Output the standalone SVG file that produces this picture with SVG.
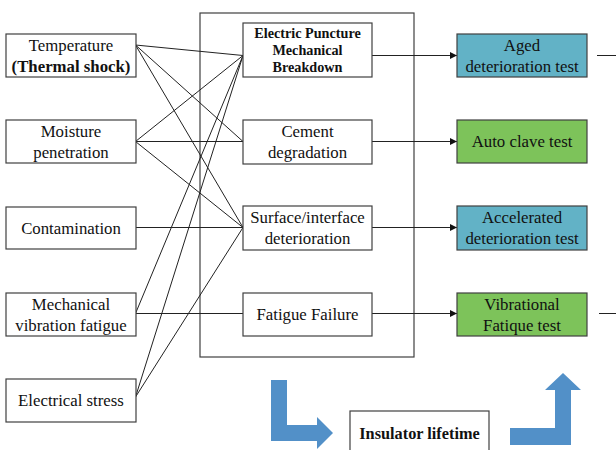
<svg xmlns="http://www.w3.org/2000/svg" width="616" height="450" viewBox="0 0 616 450">
<defs>
<style>
.box{fill:#fff;stroke:#404040;stroke-width:1.2}
.blue{fill:#62b2c6;stroke:#404040;stroke-width:1.2}
.green{fill:#7dc35a;stroke:#404040;stroke-width:1.2}
text{font-family:"Liberation Serif","Times New Roman",serif;font-size:16.8px;fill:#111;text-anchor:middle;dominant-baseline:central}
.b{font-weight:bold}
.sm{font-size:14.2px;font-weight:bold}
.lt{font-size:16.3px;font-weight:bold}
.ln{stroke:#222;stroke-width:1;fill:none}
.big{fill:#5290c8}
</style>
<marker id="ah" viewBox="0 0 10 10" refX="10" refY="5" markerWidth="7" markerHeight="7" markerUnits="userSpaceOnUse" orient="auto"><path d="M0,0 L10,5 L0,10 z" fill="#111"/></marker>
</defs>
<rect x="200" y="13" width="214" height="344" fill="none" stroke="#404040" stroke-width="1.2"/>
<g id="connectors">
<line class="ln" x1="135.5" y1="45" x2="243" y2="55.5"/>
<line class="ln" x1="135.5" y1="45" x2="243" y2="141.5"/>
<line class="ln" x1="135.5" y1="45" x2="243" y2="227.5"/>
<line class="ln" x1="135.5" y1="141.5" x2="243" y2="55.5"/>
<line class="ln" x1="135.5" y1="141.5" x2="243" y2="141.5"/>
<line class="ln" x1="135.5" y1="141.5" x2="243" y2="227.5"/>
<line class="ln" x1="135.5" y1="227.5" x2="243" y2="227.5"/>
<line class="ln" x1="135.5" y1="313.5" x2="243" y2="55.5"/>
<line class="ln" x1="135.5" y1="313.5" x2="243" y2="313.5"/>
<line class="ln" x1="135.5" y1="397" x2="243" y2="55.5"/>
<line class="ln" x1="135.5" y1="397" x2="243" y2="227.5"/>
<line class="ln" x1="372" y1="55.5" x2="457" y2="55.5" marker-end="url(#ah)"/>
<line class="ln" x1="372" y1="141.5" x2="457" y2="141.5" marker-end="url(#ah)"/>
<line class="ln" x1="372" y1="227.5" x2="457" y2="227.5" marker-end="url(#ah)"/>
<line class="ln" x1="372" y1="313.5" x2="457" y2="313.5" marker-end="url(#ah)"/>
<line class="ln" x1="597" y1="55.5" x2="616" y2="55.5" stroke-width="1.5"/>
<line class="ln" x1="599" y1="313.5" x2="616" y2="313.5" stroke-width="1.5"/>
</g>
<g id="temperature"><rect class="box" x="6" y="34" width="130" height="43"/><text x="71" y="45">Temperature</text><text x="71" y="66" class="b">(Thermal shock)</text></g>
<g id="moisture"><rect class="box" x="6" y="120" width="130" height="43"/><text x="71" y="131">Moisture</text><text x="71" y="152">penetration</text></g>
<g id="contamination"><rect class="box" x="6" y="207" width="130" height="42"/><text x="71" y="228">Contamination</text></g>
<g id="mechanical"><rect class="box" x="6" y="293" width="130" height="43"/><text x="71" y="304">Mechanical</text><text x="71" y="325">vibration fatigue</text></g>
<g id="electrical"><rect class="box" x="6" y="379" width="130" height="43"/><text x="71" y="400">Electrical stress</text></g>
<g id="puncture"><rect class="box" x="243" y="23" width="129" height="54"/><text class="sm" x="307.5" y="33">Electric Puncture</text><text class="sm" x="307.5" y="50">Mechanical</text><text class="sm" x="307.5" y="67">Breakdown</text></g>
<g id="cement"><rect class="box" x="243" y="120" width="129" height="44"/><text x="307.5" y="131">Cement</text><text x="307.5" y="152">degradation</text></g>
<g id="surface"><rect class="box" x="243" y="206" width="129" height="44"/><text x="307.5" y="217">Surface/interface</text><text x="307.5" y="238">deterioration</text></g>
<g id="fatigue"><rect class="box" x="243" y="293" width="129" height="43"/><text x="307.5" y="314">Fatigue Failure</text></g>
<g id="aged"><rect class="blue" x="457" y="34" width="130" height="43"/><text x="522" y="45">Aged</text><text x="522" y="66">deterioration test</text></g>
<g id="autoclave"><rect class="green" x="457" y="120" width="130" height="43"/><text x="522" y="141.5">Auto clave test</text></g>
<g id="accelerated"><rect class="blue" x="457" y="206" width="130" height="44"/><text x="522" y="217">Accelerated</text><text x="522" y="238">deterioration test</text></g>
<g id="vibrational"><rect class="green" x="457" y="293" width="130" height="43"/><text x="522" y="304">Vibrational</text><text x="522" y="325">Fatique test</text></g>
<g id="lifetime"><rect class="box" x="350" y="411" width="139" height="45"/><text class="lt" x="419.5" y="433">Insulator lifetime</text></g>
<g id="arrow-left"><path class="big" d="M271,380 H287 V425 H317 V417 L333,433 L317,449 V441 H271 Z"/></g>
<g id="arrow-right"><path class="big" d="M510,428 H555 V390 H545 L563,373 L581,390 H571 V445 H510 Z"/></g>
</svg>
